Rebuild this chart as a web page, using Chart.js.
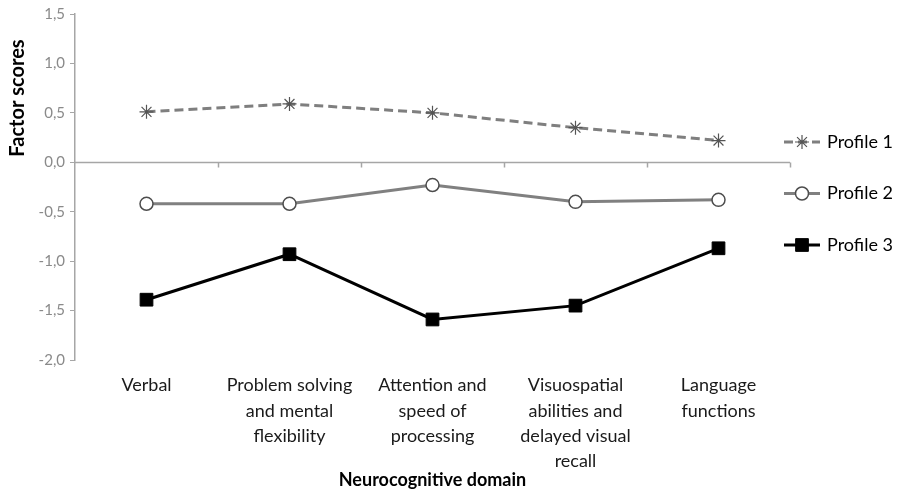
<!DOCTYPE html>
<html>
<head>
<meta charset="utf-8">
<script src="https://cdn.jsdelivr.net/npm/chart.js@4.4.1/dist/chart.umd.min.js"></script>
<style>
  html, body { margin: 0; padding: 0; background: #fff; }
  #wrap { width: 898px; height: 491px; }
</style>
</head>
<body>
<div id="wrap"><canvas id="grafico"></canvas></div>
<script>
// categories (multi-line labels as in the picture)
const dominios = [
    ['Verbal'],
    ['Problem solving', 'and mental', 'flexibility'],
    ['Attention and', 'speed of', 'processing'],
    ['Visuospatial', 'abilities and', 'delayed visual', 'recall'],
    ['Language', 'functions']
];
const perfil1 = [0.51, 0.59, 0.50, 0.35, 0.22];
const perfil2 = [-0.42, -0.42, -0.23, -0.40, -0.38];
const perfil3 = [-1.39, -0.93, -1.59, -1.45, -0.87];
const yTicks = [-2.0, -1.5, -1.0, -0.5, 0.0, 0.5, 1.0, 1.5];

const fonte = 'Lato, "Open Sans", sans-serif';

// line at y = 0 with tick marks between categories (Excel style)
const linhaZero = {
    id: 'linhaZero',
    beforeDatasetsDraw(chart) {
        const { ctx, chartArea, scales } = chart;
        const y0 = Math.round(scales.y.getPixelForValue(0)) + 0.5;
        const meio = (scales.x.getPixelForValue(1) - scales.x.getPixelForValue(0)) / 2;
        ctx.save();
        ctx.strokeStyle = '#a6a6a6';
        ctx.lineWidth = 1.5;
        ctx.beginPath();
        ctx.moveTo(chartArea.left, y0);
        ctx.lineTo(chartArea.right, y0);
        for (let i = 0; i < dominios.length; i++) {
            const xt = Math.round(scales.x.getPixelForValue(i) + meio) + 0.5;
            ctx.moveTo(xt, y0);
            ctx.lineTo(xt, y0 + 5);
        }
        ctx.stroke();
        ctx.restore();
    }
};

// y title sits above the middle in the original, so it is drawn by hand
const tituloY = {
    id: 'tituloY',
    afterDraw(chart) {
        const { ctx, scales } = chart;
        const yc = scales.y.getPixelForValue(0.65);
        ctx.save();
        ctx.translate(18, yc);
        ctx.rotate(-Math.PI / 2);
        ctx.font = 'bold 20px ' + fonte;
        ctx.fillStyle = '#000';
        ctx.textAlign = 'center';
        ctx.textBaseline = 'middle';
        ctx.fillText('Factor scores', 0, 0);
        ctx.restore();
    }
};

function drawMarker(ctx, ds, x, y) {
    ctx.save();
    ctx.fillStyle = ds.pointBackgroundColor;
    ctx.strokeStyle = ds.pointBorderColor;
    ctx.lineWidth = ds.pointBorderWidth;
    Chart.helpers.drawPoint(ctx, {
        pointStyle: ds.pointStyle,
        radius: ds.pointRadius,
        borderWidth: ds.pointBorderWidth,
        rotation: 0
    }, x, y);
    ctx.restore();
}

// legend on the right: line sample + marker + text
const legenda = {
    id: 'legenda',
    afterDraw(chart) {
        const { ctx, chartArea } = chart;
        const x0 = chartArea.right - 6;
        const meioY = (chartArea.top + chartArea.bottom) / 2;
        ctx.save();
        chart.data.datasets.forEach((ds, i) => {
            const y = meioY - 45 + i * 51.5;
            ctx.strokeStyle = ds.borderColor;
            ctx.lineWidth = ds.borderWidth;
            ctx.setLineDash(ds.borderDash || []);
            ctx.beginPath();
            ctx.moveTo(x0, y);
            ctx.lineTo(x0 + 36, y);
            ctx.stroke();
            ctx.setLineDash([]);
            drawMarker(ctx, ds, x0 + 18, y);
            ctx.fillStyle = '#000';
            ctx.font = '18px ' + fonte;
            ctx.textBaseline = 'middle';
            ctx.fillText(ds.label, x0 + 43, y);
        });
        ctx.restore();
    }
};

const ctx = document.getElementById('grafico').getContext('2d');

new Chart(ctx, {
    type: 'line',
    data: {
        labels: dominios,
        datasets: [{
            label: 'Profile 1',
            data: perfil1,
            borderColor: '#7f7f7f',
            borderWidth: 3,
            borderDash: [9, 5],
            pointStyle: 'star',
            pointRadius: 7,
            pointBorderWidth: 1.2,
            pointBackgroundColor: '#555',
            pointBorderColor: '#555',
            tension: 0
        }, {
            label: 'Profile 2',
            data: perfil2,
            borderColor: '#808080',
            borderWidth: 3,
            pointStyle: 'circle',
            pointRadius: 6.5,
            pointBorderWidth: 1.5,
            pointBackgroundColor: '#fff',
            pointBorderColor: '#4d4d4d',
            tension: 0
        }, {
            label: 'Profile 3',
            data: perfil3,
            borderColor: '#000',
            borderWidth: 3,
            pointStyle: 'rect',
            pointRadius: 9,
            pointBorderWidth: 1,
            pointBackgroundColor: '#000',
            pointBorderColor: '#000',
            tension: 0
        }]
    },
    options: {
        responsive: true,
        maintainAspectRatio: false,
        animation: false,
        layout: { padding: { top: 8, right: 108, bottom: 0, left: 0 } },
        plugins: {
            legend: { display: false },
            tooltip: { enabled: false }
        },
        scales: {
            x: {
                offset: true,
                afterFit: s => { s.height = 131; },
                border: { display: false },
                grid: { display: false },
                ticks: {
                    color: '#1a1a1a',
                    font: { family: fonte, size: 18, lineHeight: 1.4 },
                    maxRotation: 0,
                    autoSkip: false,
                    padding: 5
                },
                title: {
                    display: true,
                    text: 'Neurocognitive domain',
                    color: '#000',
                    font: { family: fonte, size: 18, weight: 'bold' },
                    padding: { top: 0, bottom: 0 }
                }
            },
            y: {
                min: -2,
                max: 1.5,
                afterBuildTicks: s => { s.ticks = yTicks.map(v => ({ value: v })); },
                afterFit: s => { s.width = 75; },
                border: { color: '#a6a6a6', width: 1.5 },
                grid: { drawOnChartArea: false, tickLength: 5, color: '#a6a6a6' },
                ticks: {
                    color: '#8a8a8a',
                    font: { family: fonte, size: 15 },
                    padding: 5,
                    callback: v => v.toFixed(1).replace('.', ',')
                }
            }
        }
    },
    plugins: [linhaZero, tituloY, legenda]
});
</script>
</body>
</html>
